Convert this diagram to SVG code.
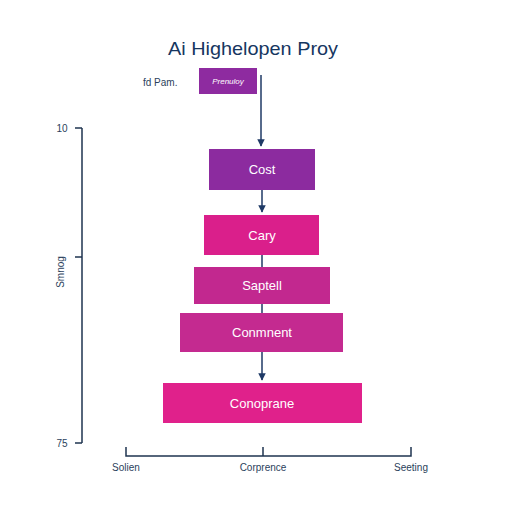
<svg xmlns="http://www.w3.org/2000/svg" width="512" height="512" viewBox="0 0 512 512">
<defs>
<style>
.t{font-family:"Liberation Sans",Arial,sans-serif;}
.ax{stroke:#1f3550;stroke-width:1.5;fill:none;}
.lab{font-family:"Liberation Sans",Arial,sans-serif;font-size:10px;fill:#2b3f5c;}
.bx{stroke:none;}
.bt{font-family:"Liberation Sans",Arial,sans-serif;font-size:13px;fill:#ffffff;text-anchor:middle;}
.cn{stroke:#1f3a66;stroke-width:1.5;fill:none;}
</style>
<marker id="ah" viewBox="0 0 10 10" refX="9" refY="5" markerWidth="5" markerHeight="5" orient="auto">
<path d="M0,0 L10,5 L0,10 z" fill="#1f3a66"/>
</marker>
</defs>
<rect width="512" height="512" fill="#ffffff"/>
<text class="t" x="253" y="55" font-size="19" font-weight="500" fill="#16365f" text-anchor="middle" textLength="170" lengthAdjust="spacingAndGlyphs">Ai Highelopen Proy</text>

<g id="axes">
<path class="ax" d="M82,128 V443 M75,128 H82 M75,257 H82 M75,443 H82"/>
<path class="ax" d="M126,447 V456 H411 V447 M263,447 V456"/>
<text class="lab" x="62" y="132" text-anchor="middle">10</text>
<text class="lab" x="62" y="447" text-anchor="middle">75</text>
<text class="lab" transform="translate(64,272) rotate(-90)" text-anchor="middle">Smnog</text>
<text class="lab" x="126" y="471" text-anchor="middle">Solien</text>
<text class="lab" x="263" y="471" text-anchor="middle">Corprence</text>
<text class="lab" x="411" y="471" text-anchor="middle">Seeting</text>
</g>

<g id="connectors">
<path class="cn" d="M261,75 V146" marker-end="url(#ah)"/>
<path class="cn" d="M262,190 V212" marker-end="url(#ah)"/>
<path class="cn" d="M262,255 V267"/>
<path class="cn" d="M262,304 V313"/>
<path class="cn" d="M262,352 V380" marker-end="url(#ah)"/>
</g>

<g id="label-fd">
<text class="t" x="143" y="86" font-size="10" fill="#2b3f5c">fd Pam.</text>
</g>
<g id="node-pretooy">
<rect class="bx" x="199" y="68" width="58" height="26" fill="#8e2ba0"/>
<text class="t" x="228" y="84" font-size="8" font-style="italic" fill="#ffffff" text-anchor="middle">Prenuloy</text>
</g>
<g id="node-cost">
<rect class="bx" x="209" y="149" width="106" height="41" fill="#8c2b9f"/>
<text class="bt" x="262" y="174">Cost</text>
</g>
<g id="node-cary">
<rect class="bx" x="204" y="215" width="115" height="40" fill="#da1f8b"/>
<text class="bt" x="262" y="240">Cary</text>
</g>
<g id="node-sapteil">
<rect class="bx" x="194" y="267" width="136" height="37" fill="#c2288f"/>
<text class="bt" x="262" y="290">Saptell</text>
</g>
<g id="node-conmnent">
<rect class="bx" x="180" y="313" width="163" height="39" fill="#c42a90"/>
<text class="bt" x="262" y="337">Conmnent</text>
</g>
<g id="node-conoprane">
<rect class="bx" x="163" y="383" width="199" height="40" fill="#e0218b"/>
<text class="bt" x="262" y="408">Conoprane</text>
</g>
</svg>
